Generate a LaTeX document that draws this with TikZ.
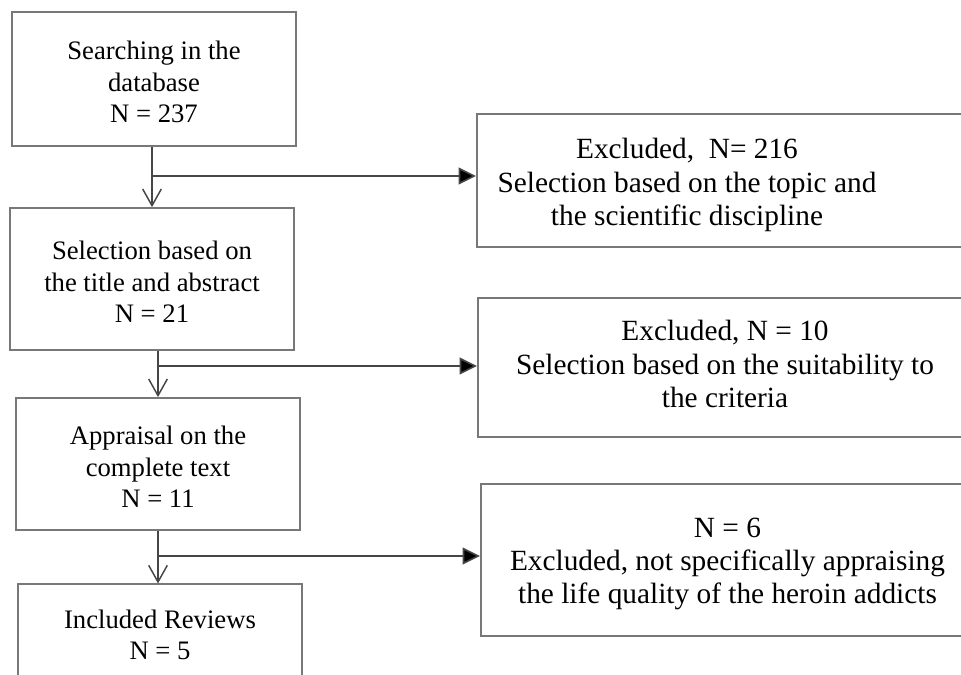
\documentclass[tikz,border=0pt]{standalone}
\usepackage{fontspec}
\setmainfont{Liberation Serif}
\usetikzlibrary{arrows.meta}
\definecolor{boxgray}{RGB}{120,120,120}
\definecolor{linegray}{RGB}{70,70,70}
\begin{document}
\begin{tikzpicture}[x=0.75pt,y=-0.75pt,
  lbox/.style={draw=boxgray,line width=1.3pt,minimum width=213pt,inner sep=0pt},
  rbox/.style={draw=boxgray,line width=1.3pt,minimum width=450pt,inner sep=0pt,anchor=west},
  ltxt/.style={align=center,font=\fontsize{20pt}{23.5pt}\selectfont,inner sep=0pt},
  rtxt/.style={align=center,font=\fontsize{22pt}{25pt}\selectfont,inner sep=0pt},
  downarrow/.style={draw=linegray,line width=1.2pt,-{Straight Barb[length=12.5pt,width=14pt,line width=1.1pt]}},
  sidearrow/.style={draw=linegray,line width=1.2pt,-{Triangle[length=13pt,width=12.5pt,fill=black]}}]
\useasboundingbox (0,0) rectangle (961,675);
\clip (0,0) rectangle (961,675);
% left boxes
\node[lbox,minimum height=100.5pt] (b1) at (154,79) {};
\node[ltxt] (t1) at (154,82) {Searching in the\\database\\N = 237};
\node[lbox,minimum height=106.5pt] (b2) at (152,279) {};
\node[ltxt] (t2) at (152,282) {Selection based on\\the title and abstract\\N = 21};
\node[lbox,minimum height=99pt] (b3) at (158,464) {};
\node[ltxt] (t3) at (158,467) {Appraisal on the\\complete text\\N = 11};
\node[lbox,minimum height=100pt] (b4) at (160,651) {};
\node[ltxt] (t4) at (160,635) {Included Reviews\\N = 5};
% right boxes
\node[rbox,minimum height=100pt] (eA) at (476,180.5) {};
\node[rtxt] (tA) at (687,185) {Excluded,\ \ N= 216\\Selection based on the topic and\\the scientific discipline};
\node[rbox,minimum height=104.5pt] (eB) at (477,367.5) {};
\node[rtxt] (tB) at (725,364) {Excluded, N = 10\\Selection based on the suitability to\\the criteria};
\node[rbox,minimum height=114pt] (eC) at (480,560) {};
\node[rtxt] (tC) at (727.5,564) {N = 6\\Excluded, not specifically appraising\\the life quality of the heroin addicts};
% junctions
\coordinate (j1) at (152,176);
\coordinate (j2) at (158,366);
\coordinate (j3) at (158,556);
% connectors
\draw[downarrow] (b2.north |- b1.south) -- (b2.north);
\draw[sidearrow] (j1) -- (j1 -| eA.west);
\draw[downarrow] (b3.north |- b2.south) -- (b3.north);
\draw[sidearrow] (j2) -- (j2 -| eB.west);
\draw[downarrow] (j3 |- b3.south) -- (j3 |- b4.north);
\draw[sidearrow] (j3) -- (j3 -| eC.west);
\end{tikzpicture}
\end{document}
